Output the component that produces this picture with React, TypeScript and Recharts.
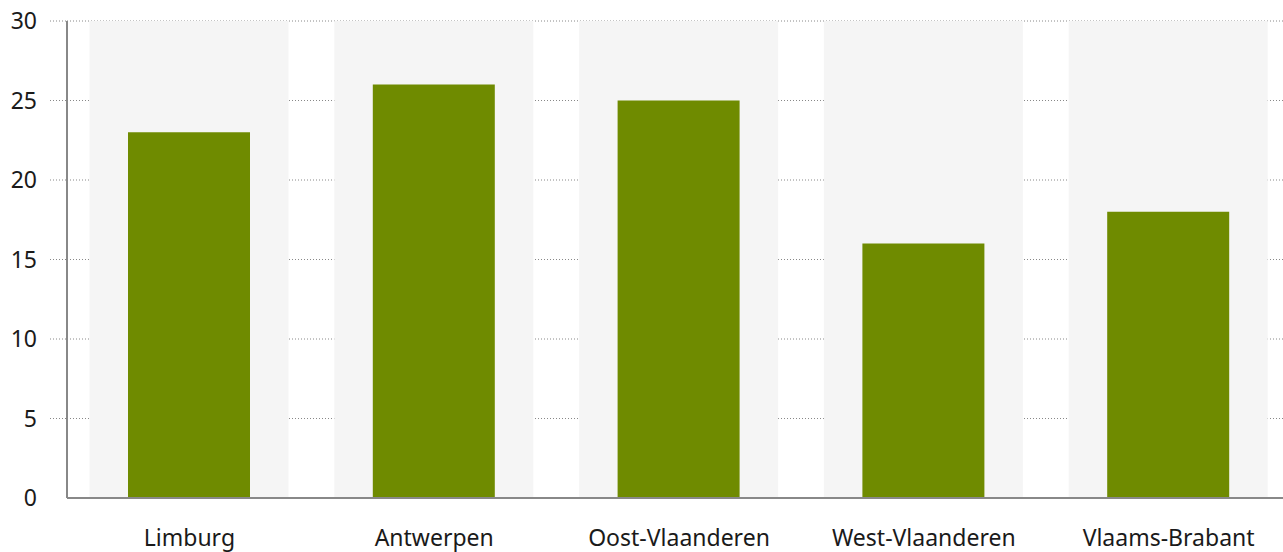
import React from 'react';
import { BarChart, Bar, XAxis, YAxis, CartesianGrid } from 'recharts';

const categories = ['Limburg', 'Antwerpen', 'Oost-Vlaanderen', 'West-Vlaanderen', 'Vlaams-Brabant'];
const values = [23, 26, 25, 16, 18];
const yTicks = [0, 5, 10, 15, 20, 25, 30];

const data = categories.map((name, i) => ({ name, value: values[i] }));

const FONT = '"Noto Sans", sans-serif';
const BAR_W = 122;
const BG_W = 199;

const Background = (props: any) => {
  const { x, y, width, height } = props;
  if (x == null) return null;
  const cx = x + width / 2;
  return <rect x={cx - BG_W / 2} y={y} width={BG_W} height={height} fill="#f5f5f5" />;
};

const YTick = (props: any) => {
  const { x, y, payload } = props;
  return (
    <g>
      {payload.value !== 0 && (
        <line x1={x - 17} x2={x - 1} y1={y} y2={y} stroke="#888" strokeWidth={1} strokeDasharray="1 2" />
      )}
      <text x={x - 30} y={y} dy="0.36em" textAnchor="end" fill="#1a1a1a" fontSize={23} fontFamily={FONT}>
        {payload.value}
      </text>
    </g>
  );
};

export default function App() {
  return (
    <div style={{ position: 'absolute', left: 0, top: 0, width: 1283, height: 552, overflow: 'hidden', background: '#fff' }}>
      <BarChart
        width={1291}
        height={552}
        data={data}
        margin={{ top: 21, right: 0, bottom: 0, left: 0 }}
        barCategoryGap={0}
      >
        <CartesianGrid vertical={false} stroke="#888" strokeDasharray="1 2" />
        <XAxis
          dataKey="name"
          height={54}
          tickLine={false}
          tickSize={0}
          tickMargin={32}
          axisLine={{ stroke: '#888', strokeWidth: 2 }}
          tick={{ fill: '#1a1a1a', fontSize: 23, fontFamily: FONT }}
          interval={0}
        />
        <YAxis
          width={67}
          domain={[0, 30]}
          ticks={yTicks}
          tickLine={false}
          tickSize={0}
          tickMargin={0}
          axisLine={{ stroke: '#888', strokeWidth: 2 }}
          tick={<YTick />}
          interval={0}
        />
        <Bar
          dataKey="value"
          fill="#6f8b00"
          barSize={BAR_W}
          background={<Background />}
          isAnimationActive={false}
        />
      </BarChart>
    </div>
  );
}
